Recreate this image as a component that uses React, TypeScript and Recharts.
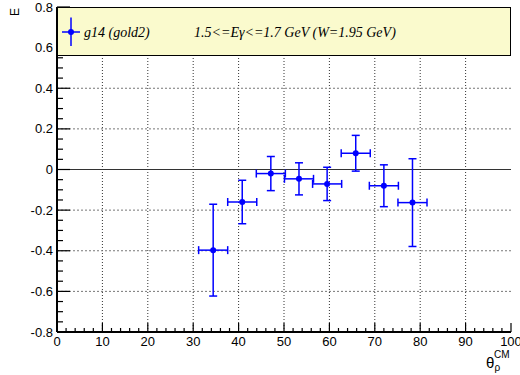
import React from 'react'
import { ScatterChart, Scatter, XAxis, YAxis, ErrorBar, ReferenceLine } from 'recharts'

// E asymmetry vs theta_rho (CM), g14 gold2, 1.5 <= Egamma <= 1.7 GeV
const thetaCM = [34.4, 40.8, 47.1, 53.3, 59.5, 65.8, 72.0, 78.3]
const thetaErr = [3.2, 3.2, 3.2, 3.2, 3.2, 3.2, 3.2, 3.2]
const eValues = [-0.397, -0.16, -0.02, -0.046, -0.071, 0.08, -0.08, -0.163]
const eErr = [0.226, 0.107, 0.084, 0.079, 0.082, 0.088, 0.103, 0.216]

const xTicks = [
  0, 2, 4, 6, 8, 10, 12, 14, 16, 18, 20, 22, 24, 26, 28, 30, 32, 34, 36, 38, 40, 42, 44, 46, 48, 50,
  52, 54, 56, 58, 60, 62, 64, 66, 68, 70, 72, 74, 76, 78, 80, 82, 84, 86, 88, 90, 92, 94, 96, 98, 100,
]
const yTicks = [
  -0.8, -0.75, -0.7, -0.65, -0.6, -0.55, -0.5, -0.45, -0.4, -0.35, -0.3, -0.25, -0.2, -0.15, -0.1, -0.05, 0,
  0.05, 0.1, 0.15, 0.2, 0.25, 0.3, 0.35, 0.4, 0.45, 0.5, 0.55, 0.6, 0.65, 0.7, 0.75, 0.8,
]
const xGrid = [10, 20, 30, 40, 50, 60, 70, 80, 90]
const yGrid = [-0.6, -0.4, -0.2, 0.2, 0.4, 0.6]

const data = thetaCM.map((x, i) => ({ x, y: eValues[i], xErr: thetaErr[i], yErr: eErr[i] }))

const W = 520
const H = 375
const PLOT_LEFT = 57
const PLOT_TOP = 7
const PLOT_RIGHT = 511
const PLOT_BOTTOM = 332
const FONT = 'Liberation Sans, Arial, Helvetica, sans-serif'
const SERIF = 'Liberation Serif, Times New Roman, serif'
const BLUE = '#0000ff'

const XTick = (props: any) => {
  const { x, payload } = props
  const v = payload.value
  const major = v % 10 === 0
  return (
    <g>
      <line x1={x} x2={x} y1={PLOT_BOTTOM} y2={PLOT_BOTTOM - (major ? 9 : 4)} stroke="#000" strokeWidth={1.2} />
      {major && (
        <text x={x} y={PLOT_BOTTOM + 14} textAnchor="middle" fontSize={13} fontFamily={FONT} fill="#000">
          {v}
        </text>
      )}
    </g>
  )
}

const YTick = (props: any) => {
  const { y, payload } = props
  const v = payload.value
  const major = Math.abs(v * 5 - Math.round(v * 5)) < 1e-6
  const label = v === 0 ? '0' : v.toFixed(1)
  return (
    <g>
      <line x1={PLOT_LEFT} x2={PLOT_LEFT + (major ? 13 : 6)} y1={y} y2={y} stroke="#000" strokeWidth={1.2} />
      {major && (
        <text x={53} y={y + 4.5} textAnchor="end" fontSize={13} fontFamily={FONT} fill="#000">
          {label}
        </text>
      )}
    </g>
  )
}

const Dot = (props: any) => <circle cx={props.cx} cy={props.cy} r={3} fill={BLUE} />

export default function App() {
  return (
    <div style={{ position: 'absolute', left: 0, top: 0, width: W, height: H, background: '#fff' }}>
      <ScatterChart
        width={W}
        height={H}
        margin={{ top: PLOT_TOP, right: W - PLOT_RIGHT, bottom: 0, left: 0 }}
      >
        <XAxis
          type="number"
          dataKey="x"
          domain={[0, 100]}
          ticks={xTicks}
          interval={0}
          allowDataOverflow
          height={H - PLOT_BOTTOM}
          tickLine={false}
          axisLine={{ stroke: '#000', strokeWidth: 2 }}
          tick={<XTick />}
        />
        <YAxis
          type="number"
          dataKey="y"
          domain={[-0.8, 0.8]}
          ticks={yTicks}
          interval={0}
          allowDataOverflow
          width={PLOT_LEFT}
          tickLine={false}
          axisLine={{ stroke: '#000', strokeWidth: 2 }}
          tick={<YTick />}
        />
        {xGrid.map((g) => (
          <ReferenceLine key={'x' + g} x={g} stroke="#333" strokeWidth={1} strokeDasharray="1 2" />
        ))}
        {yGrid.map((g) => (
          <ReferenceLine key={'y' + g} y={g} stroke="#777" strokeWidth={1} strokeDasharray="2 2" />
        ))}
        <ReferenceLine y={0} stroke="#333" strokeWidth={1.2} />
        <Scatter data={data} fill={BLUE} shape={Dot} isAnimationActive={false}>
          <ErrorBar dataKey="xErr" direction="x" width={4} stroke={BLUE} strokeWidth={1.5} isAnimationActive={false} />
          <ErrorBar dataKey="yErr" direction="y" width={4} stroke={BLUE} strokeWidth={1.5} isAnimationActive={false} />
        </Scatter>
      </ScatterChart>

      {/* legend box */}
      <svg
        width={PLOT_RIGHT - PLOT_LEFT}
        height={49}
        style={{ position: 'absolute', left: PLOT_LEFT, top: PLOT_TOP, pointerEvents: 'none' }}
      >
        <rect x={0.5} y={0.5} width={PLOT_RIGHT - PLOT_LEFT - 1} height={48} fill="#fafacd" stroke="#000" strokeWidth={1} />
        <line x1={14} x2={14} y1={10.5} y2={39} stroke={BLUE} strokeWidth={1.5} />
        <line x1={5} x2={23} y1={25} y2={25} stroke={BLUE} strokeWidth={1.5} />
        <circle cx={14} cy={25} r={3} fill={BLUE} />
        <text x={27} y={29.7} fontSize={14} fontStyle="italic" fontFamily={SERIF} fill="#000">
          g14 (gold2)
        </text>
        <text x={137} y={29.7} fontSize={14} fontStyle="italic" fontFamily={SERIF} fill="#000">
          1.5&lt;=Eγ&lt;=1.7 GeV (W=1.95 GeV)
        </text>
      </svg>

      {/* axis titles */}
      <svg width={W} height={H} style={{ position: 'absolute', left: 0, top: 0, pointerEvents: 'none' }}>
        <text
          x={15}
          y={12}
          transform="rotate(-90 15 12)"
          textAnchor="middle"
          dominantBaseline="central"
          fontSize={12}
          fontFamily={FONT}
          fill="#000"
        >
          E
        </text>
        <text x={486} y={368} fontSize={15} fontFamily={FONT} fill="#000">
          θ
        </text>
        <text x={494} y={358} fontSize={10} fontFamily={FONT} fill="#000">
          CM
        </text>
        <text x={494.5} y={371} fontSize={10} fontFamily={FONT} fill="#000">
          ρ
        </text>
      </svg>
    </div>
  )
}
